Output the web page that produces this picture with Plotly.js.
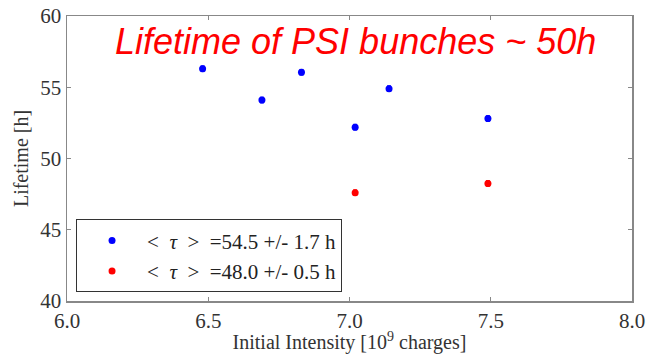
<!DOCTYPE html>
<html>
<head>
<meta charset="utf-8">
<script src="https://cdn.plot.ly/plotly-3.0.1.min.js"></script>
<style>html,body{margin:0;padding:0;background:#fff;}#chart{width:646px;height:354px;}</style>
</head>
<body>
<div id="chart"></div>
<script>
// Data
const blueX = [6.48, 6.69, 6.83, 7.02, 7.14, 7.49];
const blueY = [56.3, 54.1, 56.05, 52.2, 54.9, 52.8];
const blueErr = [0.2, 0.2, 0.2, 0.2, 0.2, 0.2];
const redX = [7.02, 7.49];
const redY = [47.6, 48.25];
const redErr = [0.2, 0.2];
const blueLabel = "&lt;&nbsp;&nbsp;<i>τ</i>&nbsp;&nbsp;&gt;&nbsp;&nbsp;=54.5 +/- 1.7 h";
const redLabel = "&lt;&nbsp;&nbsp;<i>τ</i>&nbsp;&nbsp;&gt;&nbsp;&nbsp;=48.0 +/- 0.5 h";
const xTicks = [6.0, 6.5, 7.0, 7.5, 8.0];
const yTicks = [40, 45, 50, 55, 60];
const titleText = "Lifetime of PSI bunches ~ 50h";

const serif = "Liberation Serif, Times New Roman, serif";

const traces = [
  {x: blueX, y: blueY, type: "scatter", mode: "markers", name: blueLabel,
   marker: {color: "#0000ff", size: 7},
   error_y: {type: "data", array: blueErr, visible: true, color: "#0000ff", thickness: 1, width: 2}},
  {x: redX, y: redY, type: "scatter", mode: "markers", name: redLabel,
   marker: {color: "#ff0000", size: 7},
   error_y: {type: "data", array: redErr, visible: true, color: "#ff0000", thickness: 1, width: 2}}
];

const axisCommon = {
  showgrid: false, zeroline: false, showline: true, mirror: "ticks",
  linecolor: "#888", linewidth: 1.5, ticks: "inside", ticklen: 4, tickcolor: "#888",
  tickfont: {family: serif, size: 21, color: "#333"}
};

const layout = {
  width: 646, height: 354,
  margin: {l: 67, r: 14, t: 16, b: 53},
  paper_bgcolor: "#fff", plot_bgcolor: "#fff",
  xaxis: Object.assign({}, axisCommon, {
    range: [6.0, 8.0], tickvals: xTicks, ticktext: xTicks.map(v => v.toFixed(1)),
    title: {text: "Initial Intensity [10<sup>9</sup> charges]", font: {family: serif, size: 20, color: "#333"}, standoff: 4}
  }),
  yaxis: Object.assign({}, axisCommon, {
    range: [40, 60], tickvals: yTicks, ticktext: yTicks.map(String),
    title: {text: "Lifetime [h]", font: {family: serif, size: 20, color: "#333"}, standoff: 6}
  }),
  showlegend: true,
  legend: {
    x: 0.016, y: 0.03, xanchor: "left", yanchor: "bottom",
    bgcolor: "#fff", bordercolor: "#333", borderwidth: 1,
    font: {family: serif, size: 21, color: "#222"},
    itemwidth: 60, tracegroupgap: 0
  },
  annotations: [{
    xref: "paper", yref: "paper", x: 0.51, y: 0.91, xanchor: "center", yanchor: "middle",
    text: "<i>" + titleText + "</i>", showarrow: false,
    font: {family: "Liberation Sans, Arial, sans-serif", size: 36, color: "#ff0000"}
  }]
};

Plotly.newPlot("chart", traces, layout, {displayModeBar: false, staticPlot: true});
</script>
</body>
</html>
